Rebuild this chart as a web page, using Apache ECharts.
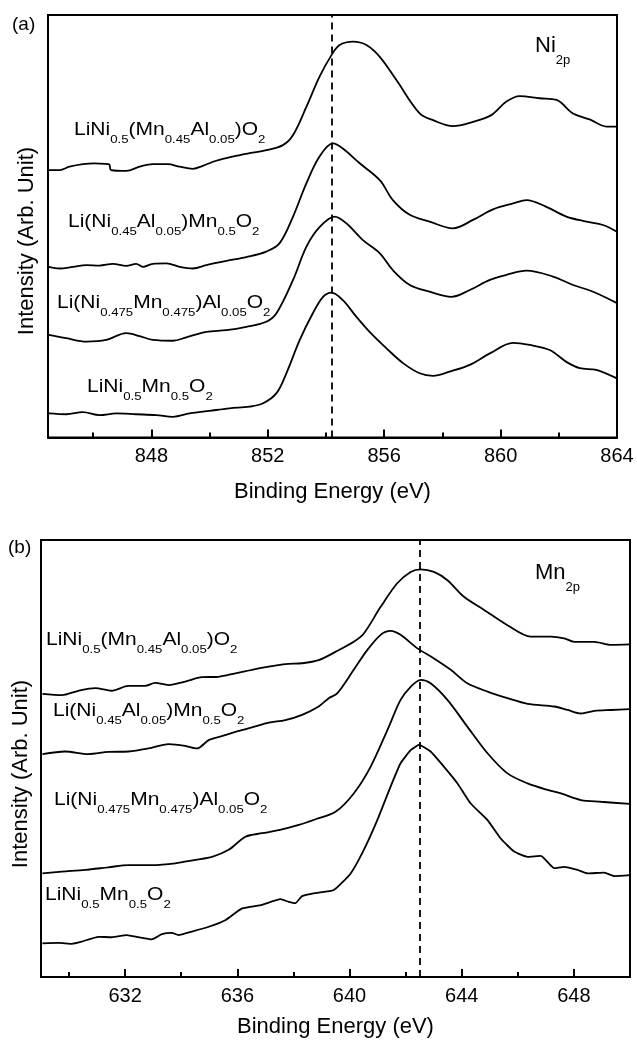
<!DOCTYPE html>
<html>
<head>
<meta charset="utf-8">
<script src="https://cdn.jsdelivr.net/npm/echarts@6/dist/echarts.min.js"></script>
<style>
  html, body { margin: 0; padding: 0; background: #fff; }
  #chart { width: 637px; height: 1041px; }
</style>
</head>
<body>
<div id="chart"></div>
<script>
// sample labels (rich text: n = normal, s = subscript)
let sampleLabels = [
  "{n|LiNi}{s|0.5}{n|(Mn}{s|0.45}{n|Al}{s|0.05}{n|)O}{s|2}",
  "{n|Li(Ni}{s|0.45}{n|Al}{s|0.05}{n|)Mn}{s|0.5}{n|O}{s|2}",
  "{n|Li(Ni}{s|0.475}{n|Mn}{s|0.475}{n|)Al}{s|0.05}{n|O}{s|2}",
  "{n|LiNi}{s|0.5}{n|Mn}{s|0.5}{n|O}{s|2}",
];

// Ni 2p axis
let niRange = [844.45, 864];
let niMajorTicks = [848, 852, 856, 860, 864];
let niMinorTicks = [846, 850, 854, 858, 862];
let niRefLine = 854.2;

// Mn 2p axis
let mnRange = [629, 650];
let mnMajorTicks = [632, 636, 640, 644, 648];
let mnMinorTicks = [630, 634, 638, 642, 646, 650];
let mnRefLine = 642.5;

// Ni 2p spectra (binding energy eV, intensity a.u., offset stacked)
let ni2pMnAl = [
  [844.48, 63.3], [844.85, 63.3], [845.19, 64.1], [845.65, 64.7], [846.05, 64.9],
  [846.51, 64.7], [846.56, 64.6], [846.62, 63.3], [847.14, 63.1], [847.6, 64.1],
  [848.05, 64.7], [848.57, 64.7], [848.97, 64.1], [849.43, 63.6], [849.77, 64.3],
  [850.23, 65.5], [850.8, 66.5], [851.38, 67.3], [851.95, 68.0], [852.52, 69.2],
  [852.87, 71.6], [853.33, 78.3], [853.78, 85.4], [854.19, 90.5], [854.47, 92.9],
  [854.93, 93.7], [855.39, 92.9], [855.85, 90.1], [856.42, 84.6], [857.22, 76.7],
  [857.68, 75.1], [858.36, 73.7], [859.05, 74.7], [859.68, 76.3], [860.2, 79.5],
  [860.66, 80.8], [861.34, 80.3], [861.92, 79.9], [862.49, 76.7], [863.06, 75.3],
  [863.64, 73.6], [864, 73.6],
];
let ni2pNiAl = [
  [844.48, 40.4], [844.85, 40.0], [845.31, 40.4], [845.77, 40.8], [846.22, 40.7],
  [846.68, 41.1], [847.14, 40.6], [847.48, 41.1], [847.71, 40.4], [848.05, 41.1],
  [848.52, 41.2], [848.97, 40.4], [849.43, 40.0], [849.89, 40.8], [850.58, 41.8],
  [851.26, 42.7], [851.95, 44.0], [852.41, 46.0], [852.87, 52.3], [853.33, 60.2],
  [853.78, 66.5], [854.24, 69.6], [854.58, 68.4], [855.16, 64.9], [855.85, 60.9],
  [856.3, 56.2], [856.88, 52.7], [857.56, 51.1], [858.36, 49.5], [859.05, 51.5],
  [859.74, 54.0], [860.43, 55.4], [860.89, 56.2], [861.57, 54.6], [862.26, 52.3],
  [862.95, 51.1], [863.52, 50.3], [864, 48.7],
];
let ni2pAl = [
  [844.48, 24.3], [845.08, 23.5], [845.77, 22.7], [846.45, 23.1], [847.14, 24.7],
  [847.6, 24.0], [848.05, 23.1], [848.74, 22.9], [849.2, 23.7], [849.89, 25.0],
  [850.58, 25.4], [851.26, 26.2], [851.95, 27.4], [852.3, 29.4], [852.87, 37.3],
  [853.33, 45.2], [853.78, 49.8], [854.3, 52.3], [854.7, 50.7], [855.27, 46.7],
  [855.85, 43.6], [856.3, 39.6], [856.88, 36.1], [857.56, 34.5], [858.31, 33.3],
  [858.94, 34.9], [859.63, 37.3], [860.2, 38.5], [860.89, 39.5], [861.8, 38.1],
  [862.49, 36.1], [863.18, 34.5], [864, 31.8],
];
let ni2pPristine = [
  [844.48, 5.7], [845.08, 5.5], [845.65, 6.0], [846.22, 5.3], [846.8, 5.7],
  [847.48, 5.5], [848.17, 5.3], [848.74, 4.9], [849.32, 5.7], [850.0, 6.3],
  [850.69, 6.9], [851.38, 7.3], [851.84, 8.1], [852.3, 10.5], [852.64, 15.2],
  [853.1, 23.1], [853.55, 29.4], [853.9, 33.3], [854.19, 34.3], [854.58, 32.5],
  [855.04, 28.6], [855.5, 25.0], [856.08, 21.1], [856.65, 17.6], [857.22, 15.2],
  [857.68, 14.6], [858.25, 15.6], [858.94, 17.2], [859.63, 19.9], [860.43, 22.4],
  [861.0, 21.9], [861.69, 20.7], [862.26, 17.9], [862.72, 16.4], [863.29, 16.0],
  [864, 14.0],
];

// Mn 2p spectra
let mn2pMnAl = [
  [629.05, 64.8], [629.74, 64.5], [630.33, 65.5], [630.93, 66.1], [631.52, 65.5],
  [632.12, 66.6], [632.71, 66.6], [633.07, 67.3], [633.55, 66.8], [634.14, 67.6],
  [634.74, 68.6], [635.33, 68.7], [635.93, 69.5], [636.52, 70.3], [637.12, 71.0],
  [637.71, 71.6], [638.31, 71.8], [638.9, 72.5], [639.5, 74.4], [640.15, 76.7],
  [640.51, 78.6], [641.11, 84.7], [641.7, 90.1], [642.18, 92.7], [642.54, 93.3],
  [643.01, 92.7], [643.49, 90.8], [644.08, 87.0], [644.8, 84.0], [645.63, 80.5],
  [646.46, 77.9], [647.18, 77.9], [647.65, 77.5], [648.01, 76.7], [648.73, 76.7],
  [649.32, 76.0], [650, 76.1],
];
let mn2pNiAl = [
  [629.05, 51.0], [629.86, 51.6], [630.69, 51.0], [631.4, 51.5], [632.12, 51.6],
  [632.83, 52.3], [633.55, 53.3], [634.14, 52.9], [634.56, 52.3], [634.98, 54.2],
  [635.45, 55.1], [635.93, 56.1], [636.52, 57.1], [637.12, 58.2], [637.71, 58.8],
  [638.31, 60.0], [638.9, 61.9], [639.26, 63.8], [639.56, 64.9], [640.15, 70.3],
  [640.63, 74.8], [641.11, 78.3], [641.46, 79.2], [641.82, 78.3], [642.42, 75.2],
  [643.01, 72.9], [643.61, 70.3], [644.2, 67.2], [644.92, 65.3], [645.63, 63.8],
  [646.35, 62.5], [647.3, 61.9], [647.78, 61.1], [648.25, 60.3], [648.73, 60.9],
  [649.32, 61.1], [650, 61.3],
];
let mn2pAl = [
  [629.05, 23.7], [629.74, 24.1], [630.57, 24.5], [631.4, 25.1], [632.12, 25.6],
  [632.95, 25.6], [633.79, 26.0], [634.5, 26.8], [635.1, 27.5], [635.69, 29.1],
  [636.29, 32.1], [636.88, 32.9], [637.48, 33.6], [638.19, 34.8], [638.79, 36.1],
  [639.5, 37.8], [640.15, 42.0], [640.75, 48.1], [641.35, 56.5], [641.82, 63.4],
  [642.18, 66.4], [642.54, 68.0], [642.89, 67.2], [643.49, 63.4], [644.2, 57.3],
  [644.92, 51.2], [645.63, 46.6], [646.35, 44.3], [647.06, 42.8], [647.54, 42.0],
  [648.25, 40.5], [648.96, 40.1], [650, 39.6],
];
let mn2pPristine = [
  [629.05, 7.7], [629.62, 7.8], [630.1, 7.6], [630.45, 8.1], [631.05, 9.2],
  [631.52, 9.1], [632.06, 9.6], [632.48, 9.1], [632.95, 8.6], [633.31, 9.8],
  [633.67, 10.1], [633.9, 9.6], [634.38, 10.4], [634.98, 11.5], [635.57, 13.0],
  [636.17, 15.7], [636.88, 16.5], [637.54, 17.8], [637.83, 17.2], [638.07, 16.9],
  [638.31, 18.5], [638.79, 19.2], [639.44, 19.9], [640.04, 23.7], [640.51, 29.1],
  [640.99, 35.9], [641.46, 43.5], [641.82, 48.9], [642.18, 51.9], [642.48, 53.1],
  [642.89, 51.6], [643.37, 48.1], [643.85, 44.3], [644.32, 39.7], [644.92, 35.9],
  [645.39, 31.7], [645.87, 28.7], [646.35, 27.5], [646.82, 27.7], [647.3, 24.9],
  [647.65, 25.2], [648.13, 24.5], [648.49, 23.7], [649.08, 23.9], [649.44, 23.1],
  [650, 23.3],
];

let font = "'Liberation Sans', Arial, sans-serif";

let richStyle = {
  n: { fontSize: 17.5, fontFamily: font, lineHeight: 30, verticalAlign: "middle", fill: "#000" },
  s: { fontSize: 11, fontFamily: font, lineHeight: 12, verticalAlign: "bottom", fill: "#000" },
};
let richTitle = {
  n: { fontSize: 22, fontFamily: font, lineHeight: 42, verticalAlign: "middle", fill: "#000" },
  s: { fontSize: 13, fontFamily: font, lineHeight: 14, verticalAlign: "bottom", fill: "#000" },
};

function lineSeries(data, xi, yi, smooth) {
  return {
    type: "line",
    data: data,
    xAxisIndex: xi,
    yAxisIndex: yi,
    symbol: "none",
    smooth: smooth,
    silent: true,
    lineStyle: { color: "#000", width: 1.8 },
  };
}

function refLine(value) {
  return {
    silent: true,
    symbol: "none",
    label: { show: false },
    lineStyle: { color: "#000", type: [7, 5], width: 1.8 },
    data: [{ xAxis: value }],
  };
}

function majorAxis(grid, range, ticks, gap) {
  return {
    gridIndex: grid,
    type: "value",
    min: range[0],
    max: range[1],
    position: "bottom",
    axisLine: { lineStyle: { color: "#000", width: 2 } },
    axisTick: { inside: true, length: 8, customValues: ticks, lineStyle: { color: "#000", width: 2 } },
    axisLabel: { customValues: ticks, color: "#000", fontSize: 20, fontFamily: font, margin: 9 },
    splitLine: { show: false },
    name: "Binding Energy (eV)",
    nameLocation: "middle",
    nameGap: gap,
    nameTextStyle: { color: "#000", fontSize: 22, fontFamily: font },
  };
}

function minorAxis(grid, range, ticks) {
  return {
    gridIndex: grid,
    type: "value",
    min: range[0],
    max: range[1],
    position: "bottom",
    axisLine: { show: false },
    axisTick: { inside: true, length: 5, customValues: ticks, lineStyle: { color: "#000", width: 2 } },
    axisLabel: { show: false },
    splitLine: { show: false },
  };
}

function intensityAxis(grid) {
  return {
    gridIndex: grid,
    type: "value",
    min: 0,
    max: 100,
    axisLine: { show: true, lineStyle: { color: "#000", width: 2 } },
    axisTick: { show: false },
    axisLabel: { show: false },
    splitLine: { show: false },
  };
}

function labelText(text, x, y, rich, scaleX) {
  return {
    type: "text",
    x: x,
    y: y,
    scaleX: scaleX,
    silent: true,
    style: { text: text, rich: rich, align: "left", verticalAlign: "middle", fill: "#000" },
  };
}

function plainText(text, x, y, size, rotation) {
  return {
    type: "text",
    x: x,
    y: y,
    rotation: rotation,
    silent: true,
    style: {
      text: text,
      fontSize: size,
      fontFamily: font,
      align: rotation ? "center" : "left",
      verticalAlign: "middle",
      fill: "#000",
    },
  };
}

let niSeries = [ni2pMnAl, ni2pNiAl, ni2pAl, ni2pPristine];
let mnSeries = [mn2pMnAl, mn2pNiAl, mn2pAl, mn2pPristine];

let series = [];
niSeries.forEach((d, i) => {
  let s = lineSeries(d, 0, 0, 0.35);
  if (i === 0) s.markLine = refLine(niRefLine);
  series.push(s);
});
mnSeries.forEach((d, i) => {
  let s = lineSeries(d, 2, 1, i === 3 ? 0.15 : 0.3);
  if (i === 0) s.markLine = refLine(mnRefLine);
  series.push(s);
});

let niLabelPos = [[74, 130], [68, 222], [57, 303], [87, 387]];
let mnLabelPos = [[46, 640], [53, 711], [54, 800], [45, 895]];

let graphic = [];
sampleLabels.forEach((t, i) => {
  graphic.push(labelText(t, niLabelPos[i][0], niLabelPos[i][1], richStyle, 1.2));
  graphic.push(labelText(t, mnLabelPos[i][0], mnLabelPos[i][1], richStyle, 1.2));
});
graphic.push(labelText("{n|Ni}{s|2p}", 535, 46, richTitle, 1));
graphic.push(labelText("{n|Mn}{s|2p}", 535, 573, richTitle, 1));
graphic.push(plainText("(a)", 12, 25, 19, 0));
graphic.push(plainText("(b)", 8, 548, 19, 0));
graphic.push(plainText("Intensity (Arb. Unit)", 27, 241, 22, Math.PI / 2));
graphic.push(plainText("Intensity (Arb. Unit)", 21, 774, 22, Math.PI / 2));

let myChart = echarts.init(document.getElementById("chart"));
let option = {
  animation: false,
  backgroundColor: "#fff",
  grid: [
    { left: 48, top: 15, width: 569, height: 422.5, show: true, borderColor: "#000", borderWidth: 2, outerBoundsMode: "none" },
    { left: 41, top: 540, width: 589, height: 437, show: true, borderColor: "#000", borderWidth: 2, outerBoundsMode: "none" },
  ],
  xAxis: [
    majorAxis(0, niRange, niMajorTicks, 43),
    minorAxis(0, niRange, niMinorTicks),
    majorAxis(1, mnRange, mnMajorTicks, 39),
    minorAxis(1, mnRange, mnMinorTicks),
  ],
  yAxis: [intensityAxis(0), intensityAxis(1)],
  series: series,
  graphic: graphic,
};
myChart.setOption(option);
window.addEventListener("resize", () => {
  myChart.resize();
});
</script>
</body>
</html>
